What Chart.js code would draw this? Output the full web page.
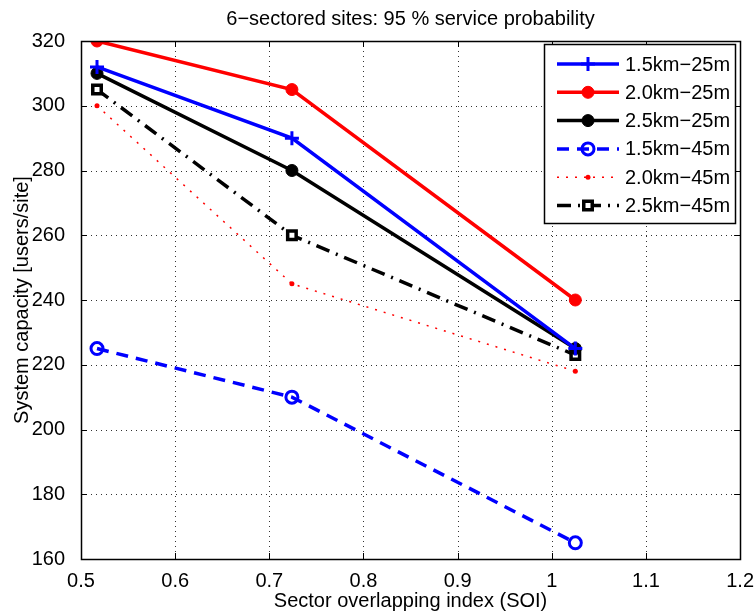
<!DOCTYPE html>
<html>
<head>
<meta charset="utf-8">
<script src="https://cdn.jsdelivr.net/npm/chart.js@4"></script>
<style>
  html, body { margin: 0; padding: 0; background: #fff; }
  #wrap { width: 756px; height: 614px; }
</style>
</head>
<body>
<div id="wrap"><canvas id="Chart"></canvas></div>
<script>
// * Data
const soi = [0.517, 0.724, 1.025]
const cap15km25m = [312, 290, 225]
const cap20km25m = [320, 305, 240]
const cap25km25m = [310, 280, 225]
const cap15km45m = [225, 210, 165]
const cap20km45m = [300, 245, 218]
const cap25km45m = [305, 260, 223]

const TITLE = '6\u2212sectored sites: 95 % service probability'
const FONT = '"Liberation Sans", Arial, sans-serif'

function pts(ys) {
    return soi.map((x, i) => ({ x: x, y: ys[i] }))
}

const data = {
    datasets: [{
        label: '1.5km\u221225m',
        data: pts(cap15km25m),
        borderColor: '#0000ff',
        borderWidth: 3.5,
        pointStyle: 'cross',
        pointRadius: 7,
        pointBorderWidth: 3,
    }, {
        label: '2.0km\u221225m',
        data: pts(cap20km25m),
        borderColor: '#ff0000',
        backgroundColor: '#ff0000',
        borderWidth: 3.5,
        pointStyle: 'circle',
        pointRadius: 6,
        pointBorderWidth: 1,
    }, {
        label: '2.5km\u221225m',
        data: pts(cap25km25m),
        borderColor: '#000000',
        backgroundColor: '#000000',
        borderWidth: 3.5,
        pointStyle: 'circle',
        pointRadius: 6,
        pointBorderWidth: 1,
    }, {
        label: '1.5km\u221245m',
        data: pts(cap15km45m),
        borderColor: '#0000ff',
        backgroundColor: 'rgba(0,0,0,0)',
        borderWidth: 3.5,
        borderDash: [12, 8],
        pointStyle: 'circle',
        pointRadius: 6,
        pointBorderWidth: 3,
    }, {
        label: '2.0km\u221245m',
        data: pts(cap20km45m),
        borderColor: '#ff0000',
        backgroundColor: '#ff0000',
        borderWidth: 1.5,
        borderDash: [2, 7],
        pointStyle: 'circle',
        pointRadius: 2.5,
        pointBorderWidth: 0,
    }, {
        label: '2.5km\u221245m',
        data: pts(cap25km45m),
        borderColor: '#000000',
        backgroundColor: '#ffffff',
        borderWidth: 3.5,
        borderDash: [14, 7, 2, 7],
        pointStyle: 'rect',
        pointRadius: 6,
        pointBorderWidth: 3.5,
    }],
}

// * Dotted grid, box, inward ticks, title and legend drawn like the original figure
const frame = {
    id: 'frame',
    beforeDatasetsDraw(chart) {
        const { ctx, chartArea: a, scales } = chart
        ctx.save()
        ctx.strokeStyle = '#333'
        ctx.lineWidth = 1
        ctx.setLineDash([1, 4])
        ctx.beginPath()
        scales.x.ticks.forEach(t => {
            const px = Math.round(scales.x.getPixelForValue(t.value)) + 0.5
            ctx.moveTo(px, a.top); ctx.lineTo(px, a.bottom)
        })
        scales.y.ticks.forEach(t => {
            const py = Math.round(scales.y.getPixelForValue(t.value)) + 0.5
            ctx.moveTo(a.left, py); ctx.lineTo(a.right, py)
        })
        ctx.stroke()
        ctx.restore()
    },
    afterDraw(chart) {
        const { ctx, chartArea: a, scales } = chart
        ctx.save()
        ctx.strokeStyle = '#000'
        ctx.lineWidth = 1
        ctx.setLineDash([])
        ctx.beginPath()
        scales.x.ticks.forEach(t => {
            const px = Math.round(scales.x.getPixelForValue(t.value)) + 0.5
            ctx.moveTo(px, a.bottom); ctx.lineTo(px, a.bottom - 6)
            ctx.moveTo(px, a.top); ctx.lineTo(px, a.top + 6)
        })
        scales.y.ticks.forEach(t => {
            const py = Math.round(scales.y.getPixelForValue(t.value)) + 0.5
            ctx.moveTo(a.left, py); ctx.lineTo(a.left + 6, py)
            ctx.moveTo(a.right, py); ctx.lineTo(a.right - 6, py)
        })
        ctx.stroke()
        ctx.lineWidth = 1.5
        ctx.strokeRect(Math.round(a.left) + 0.5, Math.round(a.top) + 0.5,
            Math.round(a.right - a.left), Math.round(a.bottom - a.top))

        // title, centred over the plot box
        ctx.fillStyle = '#000'
        ctx.font = '20px ' + FONT
        ctx.textAlign = 'center'
        ctx.textBaseline = 'middle'
        ctx.fillText(TITLE, (a.left + a.right) / 2, 19)

        // legend
        const bx = 544.5, by = 44.5, bw = 191, bh = 179
        ctx.fillStyle = '#fff'
        ctx.fillRect(bx, by, bw, bh)
        ctx.lineWidth = 1.5
        ctx.strokeRect(bx, by, bw, bh)
        ctx.textAlign = 'left'
        chart.data.datasets.forEach((ds, i) => {
            const y = 64 + i * 28.3
            ctx.save()
            ctx.strokeStyle = ds.borderColor
            ctx.lineWidth = ds.borderWidth
            ctx.setLineDash(ds.borderDash || [])
            ctx.beginPath()
            ctx.moveTo(557, y); ctx.lineTo(619, y)
            ctx.stroke()
            ctx.setLineDash([])
            ctx.lineWidth = ds.pointBorderWidth
            ctx.fillStyle = ds.backgroundColor || ds.borderColor
            Chart.helpers.drawPoint(ctx, {
                pointStyle: ds.pointStyle, radius: ds.pointRadius,
                rotation: 0, borderWidth: ds.pointBorderWidth
            }, 588, y)
            ctx.restore()
            ctx.fillStyle = '#000'
            ctx.font = '20px ' + FONT
            ctx.textBaseline = 'middle'
            ctx.fillText(ds.label, 625, y + 1)
        })
        ctx.restore()
    }
}

// * Config
const config = {
    type: 'line',
    data,
    options: {
        responsive: true,
        maintainAspectRatio: false,
        animation: false,
        layout: { padding: { left: 0, right: 14, top: 41, bottom: 0 } },
        plugins: {
            legend: { display: false },
            tooltip: { enabled: false },
        },
        scales: {
            x: {
                type: 'linear',
                min: 0.5,
                max: 1.2,
                ticks: {
                    stepSize: 0.1,
                    color: '#000',
                    font: { family: FONT, size: 20 },
                    padding: 2,
                    callback: v => String(Number(v.toFixed(1))),
                },
                grid: { display: false },
                border: { display: false },
                title: {
                    display: true,
                    text: 'Sector overlapping index (SOI)',
                    color: '#000',
                    font: { family: FONT, size: 20 },
                    padding: { top: 0, bottom: 1 },
                },
                afterFit: s => { s.height = 55 },
            },
            y: {
                min: 160,
                max: 320,
                ticks: {
                    stepSize: 20,
                    color: '#000',
                    font: { family: FONT, size: 20 },
                    padding: 8,
                },
                grid: { display: false },
                border: { display: false },
                title: {
                    display: true,
                    text: 'System capacity [users/site]',
                    color: '#000',
                    font: { family: FONT, size: 20 },
                    padding: { top: 10, bottom: 0 },
                },
                afterFit: s => { s.width = 81 },
            },
        },
    },
    plugins: [frame],
}

// * Render
const lineChart = new Chart(document.getElementById('Chart'), config)
</script>
</body>
</html>
